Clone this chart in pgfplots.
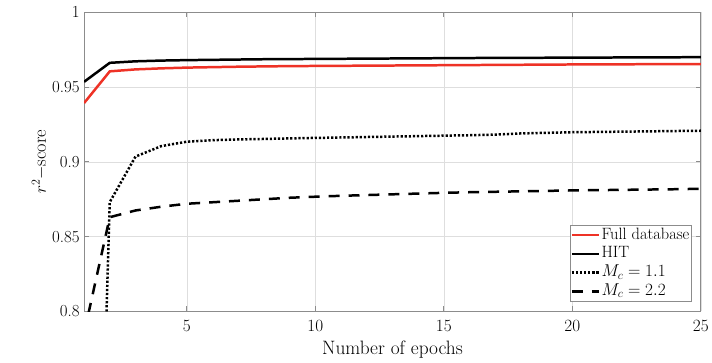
\documentclass[border=0pt]{standalone}
\usepackage{pgfplots}
\pgfplotsset{compat=1.18}
\definecolor{myred}{RGB}{238,50,38}
\definecolor{axgray}{RGB}{140,140,140}
\definecolor{gridgray}{RGB}{222,222,222}
\begin{document}
\begin{tikzpicture}
\begin{axis}[
  name=ax,
  scale only axis,
  width=618.4bp, height=300bp,
  xmin=1, xmax=25, ymin=0.8, ymax=1,
  xtick={5,10,15,20,25},
  ytick={0.8,0.85,0.9,0.95,1},
  yticklabels={0.8,0.85,0.9,0.95,1},
  grid=major,
  major grid style={gridgray, line width=0.6bp},
  axis line style={axgray, line width=0.8bp},
  tick style={axgray, line width=0.8bp},
  tick align=inside,
  major tick length=5bp,
  tick label style={font=\fontsize{17}{20}\selectfont},
  xticklabel style={yshift=-5bp},
  yticklabel style={xshift=-1bp},
  xlabel style={font=\fontsize{19.5}{22}\selectfont, yshift=-3bp},
  ylabel style={font=\fontsize{18.5}{22}\selectfont, yshift=-2bp},
  xlabel={Number of epochs},
  ylabel={$r^2-$score},
  legend cell align=left,
  legend style={at={(0.9843,0.0333)}, anchor=south east, draw=axgray, line width=0.6bp,
    fill=white, font=\fontsize{16.5}{19}\selectfont, inner xsep=0bp, inner ysep=0.5bp,
    row sep=0bp, nodes={inner xsep=1.5bp, inner ysep=1.5bp, text height=12bp, text depth=3.8bp}},
  legend image code/.code={\draw[#1, line width=2.5bp] (0bp,0bp) -- (27bp,0bp);},
]
\addplot[myred, line width=2.5bp] coordinates {
(1,0.9393) (2,0.9605) (3,0.9618) (4,0.9625) (5,0.9630) (6,0.9633) (7,0.9636)
(8,0.9638) (9,0.9640) (10,0.9641) (11,0.9642) (12,0.9643) (13,0.9644) (14,0.9645)
(15,0.9646) (16,0.9647) (17,0.9648) (18,0.9649) (19,0.9650) (20,0.9651) (21,0.9652)
(22,0.9652) (23,0.9653) (24,0.9653) (25,0.9654)};
\addlegendentry{Full database}
\addplot[black, line width=2.5bp] coordinates {
(1,0.9535) (2,0.9662) (3,0.9672) (4,0.9677) (5,0.9680) (6,0.9682) (7,0.9684)
(8,0.9686) (9,0.9687) (10,0.9688) (11,0.9689) (12,0.9690) (13,0.9691) (14,0.9692)
(15,0.9693) (16,0.9694) (17,0.9695) (18,0.9695) (19,0.9696) (20,0.9697) (21,0.9697)
(22,0.9698) (23,0.9699) (24,0.9699) (25,0.9700)};
\addlegendentry{HIT}
\addplot[black, line width=2.5bp, dash pattern=on 2.2bp off 1.9bp] coordinates {
(1,0.3) (2,0.8731) (3,0.9035) (4,0.9105) (5,0.9135) (6,0.9145) (7,0.9150)
(8,0.9153) (9,0.9157) (10,0.9160) (11,0.9163) (12,0.9166) (13,0.9169) (14,0.9172)
(15,0.9175) (16,0.9178) (17,0.9182) (18,0.9190) (19,0.9194) (20,0.9198) (21,0.9200)
(22,0.9202) (23,0.9204) (24,0.9206) (25,0.9208)};
\addlegendentry{$M_c=1.1$}
\addplot[black, line width=2.5bp, dash pattern=on 11bp off 9bp] coordinates {
(1,0.7855) (2,0.8630) (3,0.8675) (4,0.8700) (5,0.8720) (6,0.8730) (7,0.8740)
(8,0.8750) (9,0.8760) (10,0.8767) (11,0.8773) (12,0.8778) (13,0.8783) (14,0.8788)
(15,0.8793) (16,0.8797) (17,0.8800) (18,0.8803) (19,0.8806) (20,0.8809) (21,0.8811)
(22,0.8813) (23,0.8815) (24,0.8817) (25,0.8820)};
\addlegendentry{$M_c=2.2$}
\end{axis}
\path ([shift={(-84.3bp,-50.7bp)}]ax.south west) rectangle ([shift={(9.3bp,12.3bp)}]ax.north east);
\end{tikzpicture}
\end{document}
